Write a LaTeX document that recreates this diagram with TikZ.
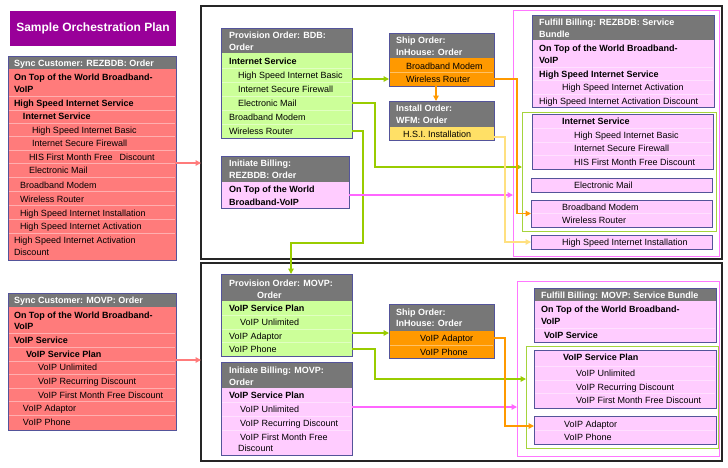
\documentclass[tikz,border=0pt]{standalone}
\usepackage{fontspec}
\setmainfont{Liberation Sans}
\usetikzlibrary{arrows.meta,calc}
\definecolor{hdr}{HTML}{777777}
\definecolor{bord}{HTML}{54549A}
\definecolor{syncf}{HTML}{FF7B7B}
\definecolor{provf}{HTML}{CCFF99}
\definecolor{billf}{HTML}{FFCCFF}
\definecolor{shipf}{HTML}{FF9900}
\definecolor{instf}{HTML}{FFE066}
\definecolor{titlef}{HTML}{990099}
\definecolor{grl}{HTML}{99CC00}
\definecolor{pkl}{HTML}{FF66FF}
\definecolor{orl}{HTML}{FF9900}
\definecolor{yll}{HTML}{FFE080}
\definecolor{rdl}{HTML}{FF7B7B}
\definecolor{grframe}{HTML}{A5D43C}
\definecolor{pkframe}{HTML}{FF77FF}
\tikzset{
 tb/.style={draw=bord, line width=0.9pt, inner sep=0pt, outer sep=0pt, anchor=north west},
 frm/.style={inner sep=0pt, outer sep=0pt, anchor=north west},
 txt/.style={inner sep=0pt, outer sep=0pt, anchor=west, text height=6.5pt, text depth=0pt, font=\fontsize{9}{11}\selectfont, text=black},
 htxt/.style={txt, text=white, font=\fontsize{9}{11}\selectfont\bfseries},
 btxt/.style={txt, font=\fontsize{9}{11}\selectfont\bfseries},
 sepl/.style={draw=white, draw opacity=0.4, line width=0.6pt},
 conn/.style={line width=1.3pt, -{Triangle[length=5.5pt,width=5.5pt]}},
}
\newcommand\tbox[7]{%
 \node[tb, fill=#7, minimum width={(#4-#2)*1pt}, minimum height={(#5-#3)*1pt}] (#1) at (#2,#3) {};
 \fill[hdr] (#2,#3) rectangle (#4,#6);
 \draw[bord, line width=0.9pt] (#2,#3) rectangle (#4,#5);
}
\newcommand\pbox[5]{%
 \node[tb, fill=billf, minimum width={(#4-#2)*1pt}, minimum height={(#5-#3)*1pt}] (#1) at (#2,#3) {};
}
\newcommand\seps[3]{\foreach \yy in {#3}{\draw[sepl] (#1,\yy) -- (#2,\yy);}}
\newcommand\rt[5][txt]{\node[#1] (#2) at (#3,#4) {#5};}
\begin{document}
\begin{tikzpicture}[x=1pt,y=-1pt]
\fill[white] (0,0) rectangle (728,467);
\useasboundingbox (0,0) rectangle (728,467);

% title
\node[frm, fill=titlef, minimum width=166pt, minimum height=35pt, text=white, font=\fontsize{12}{14}\selectfont\bfseries] (title) at (10,11) {Sample Orchestration Plan};

% big frames
\node[frm, draw=black!85, line width=1.2pt, minimum width=521pt, minimum height=253pt] (upper) at (201,6) {};
\node[frm, draw=black!85, line width=1.2pt, minimum width=521pt, minimum height=198pt] (lower) at (201,263) {};
\node[frm, draw=pkframe, line width=1pt, minimum width=206pt, minimum height=246pt] (pinkA) at (513,10) {};
\node[frm, draw=grframe, line width=1pt, minimum width=194pt, minimum height=119pt] (greenA) at (522,112) {};
\node[frm, draw=pkframe, line width=1pt, minimum width=202pt, minimum height=175pt] (pinkB) at (517,281) {};
\node[frm, draw=grframe, line width=1pt, minimum width=192pt, minimum height=102pt] (greenB) at (526,346) {};

% Sync Customer REZBDB
\tbox{syncA}{8}{56}{176}{260}{69}{syncf}
\seps{9}{175}{96,110,123,136,150,163,177,191,205,219,233}
\rt[htxt]{sAh}{14}{63}{Sync Customer: REZBDB: Order}
\rt[btxt]{sA1}{14}{77}{On Top of the World Broadband-}
\rt[btxt]{sA1b}{14}{89}{VoIP}
\rt[btxt]{sA2}{14}{103}{High Speed Internet Service}
\rt[btxt]{sA3}{23}{116}{Internet Service}
\rt{sA4}{32}{130}{High Speed Internet Basic}
\rt{sA5}{32}{143}{Internet Secure Firewall}
\rt{sA6}{29}{157}{HIS First Month Free\enspace\ Discount}
\rt{sA7}{29}{170}{Electronic Mail}
\rt{sA8}{20}{185}{Broadband Modem}
\rt{sA9}{20}{199}{Wireless Router}
\rt{sA10}{20}{213}{High Speed Internet Installation}
\rt{sA11}{20}{226}{High Speed Internet Activation}
\rt{sA12}{14}{240}{High Speed Internet Activation}
\rt{sA12b}{14}{252}{Discount}

% Sync Customer MOVP
\tbox{syncB}{8}{293}{176}{430}{307}{syncf}
\seps{9}{175}{333,347,361,374,388,401,415}
\rt[htxt]{sBh}{14}{300}{Sync Customer: MOVP: Order}
\rt[btxt]{sB1}{14}{315}{On Top of the World Broadband-}
\rt[btxt]{sB1b}{14}{326}{VoIP}
\rt[btxt]{sB2}{14}{340}{VoIP Service}
\rt[btxt]{sB3}{26}{354}{VoIP Service Plan}
\rt{sB4}{38}{367}{VoIP Unlimited}
\rt{sB5}{38}{381}{VoIP Recurring Discount}
\rt{sB6}{38}{395}{VoIP First Month Free Discount}
\rt{sB7}{23}{408}{VoIP Adaptor}
\rt{sB8}{23}{422}{VoIP Phone}

% Provision BDB
\tbox{provA}{221}{28}{352}{138}{53}{provf}
\seps{222}{351}{68,82,96,110,124}
\rt[htxt]{pAh1}{229}{35}{Provision Order: BDB:}
\rt[htxt]{pAh2}{229}{47}{Order}
\rt[btxt]{pA1}{229}{61}{Internet Service}
\rt{pA2}{238}{75}{High Speed Internet Basic}
\rt{pA3}{238}{89}{Internet Secure Firewall}
\rt{pA4}{238}{103}{Electronic Mail}
\rt{pA5}{229}{117}{Broadband Modem}
\rt{pA6}{229}{131}{Wireless Router}

% Initiate Billing REZBDB
\tbox{initA}{221}{156}{349}{208}{182}{billf}
\rt[htxt]{iAh1}{229}{163}{Initiate Billing:}
\rt[htxt]{iAh2}{229}{175}{REZBDB: Order}
\rt[btxt]{iA1}{229}{189}{On Top of the World}
\rt[btxt]{iA1b}{229}{202}{Broadband-VoIP}

% Ship Order (upper)
\tbox{shipA}{389}{33}{494}{86}{58}{shipf}
\seps{390}{493}{72}
\rt[htxt]{shAh1}{396}{40}{Ship Order:}
\rt[htxt]{shAh2}{396}{52}{InHouse: Order}
\rt{shA1}{406}{66}{Broadband Modem}
\rt{shA2}{406}{79}{Wireless Router}

% Install Order
\tbox{instA}{389}{101}{494}{140}{127}{instf}
\rt[htxt]{inAh1}{396}{108}{Install Order:}
\rt[htxt]{inAh2}{396}{120}{WFM: Order}
\rt{inA1}{403}{134}{H.S.I. Installation}

% Fulfill Billing REZBDB
\tbox{fulA}{532}{15}{714}{107}{40}{billf}
\seps{533}{713}{67,80,94}
\rt[htxt]{fAh1}{539}{22}{Fulfill Billing: REZBDB: Service}
\rt[htxt]{fAh2}{539}{34}{Bundle}
\rt[btxt]{fA1}{539}{48}{On Top of the World Broadband-}
\rt[btxt]{fA1b}{539}{60}{VoIP}
\rt[btxt]{fA2}{539}{74}{High Speed Internet Service}
\rt{fA3}{562}{87}{High Speed Internet Activation}
\rt{fA4}{539}{101}{High Speed Internet Activation Discount}

\pbox{isA}{532}{114}{713}{169}
\seps{533}{712}{128,142,155}
\rt[btxt]{isA1}{562}{121}{Internet Service}
\rt{isA2}{574}{135}{High Speed Internet Basic}
\rt{isA3}{574}{148}{Internet Secure Firewall}
\rt{isA4}{574}{162}{HIS First Month Free Discount}
\pbox{emA}{531}{178}{712}{192}
\rt{emA1}{574}{185}{Electronic Mail}
\pbox{bbA}{531}{200}{712}{227}
\seps{532}{711}{213}
\rt{bbA1}{562}{207}{Broadband Modem}
\rt{bbA2}{562}{220}{Wireless Router}
\pbox{hsiA}{531}{235}{712}{249}
\rt{hsiA1}{562}{242}{High Speed Internet Installation}

% Provision MOVP
\tbox{provB}{221}{274}{352}{356}{301}{provf}
\seps{222}{351}{315,329,342}
\rt[htxt]{pBh1}{229}{283}{Provision Order: MOVP:}
\rt[htxt]{pBh2}{257}{295}{Order}
\rt[btxt]{pB1}{229}{308}{VoIP Service Plan}
\rt{pB2}{240}{322}{VoIP Unlimited}
\rt{pB3}{229}{336}{VoIP Adaptor}
\rt{pB4}{229}{349}{VoIP Phone}

% Initiate Billing MOVP
\tbox{initB}{221}{362}{352}{455}{388}{billf}
\seps{222}{351}{402,416,430}
\rt[htxt]{iBh1}{229}{370}{Initiate Billing: MOVP:}
\rt[htxt]{iBh2}{229}{382}{Order}
\rt[btxt]{iB1}{229}{395}{VoIP Service Plan}
\rt{iB2}{240}{409}{VoIP Unlimited}
\rt{iB3}{240}{423}{VoIP Recurring Discount}
\rt{iB4}{240}{437}{VoIP First Month Free}
\rt{iB4b}{238}{448}{Discount}

% Ship Order (lower)
\tbox{shipB}{389}{304}{494}{358}{331}{shipf}
\seps{390}{493}{345}
\rt[htxt]{shBh1}{396}{312}{Ship Order:}
\rt[htxt]{shBh2}{396}{323}{InHouse: Order}
\rt{shB1}{420}{338}{VoIP Adaptor}
\rt{shB2}{420}{352}{VoIP Phone}

% Fulfill Billing MOVP
\tbox{fulB}{534}{288}{716}{342}{301}{billf}
\seps{535}{715}{328}
\rt[htxt]{fBh}{541}{295}{Fulfill Billing: MOVP: Service Bundle}
\rt[btxt]{fB1}{541}{309}{On Top of the World Broadband-}
\rt[btxt]{fB1b}{541}{321}{VoIP}
\rt[btxt]{fB2}{544}{335}{VoIP Service}
\pbox{vsB}{534}{350}{716}{408}
\seps{535}{715}{366,380,393}
\rt[btxt]{vsB1}{563}{357}{VoIP Service Plan}
\rt{vsB2}{576}{373}{VoIP Unlimited}
\rt{vsB3}{576}{387}{VoIP Recurring Discount}
\rt{vsB4}{576}{400}{VoIP First Month Free Discount}
\pbox{vaB}{534}{416}{716}{444}
\seps{535}{715}{430}
\rt{vaB1}{564}{424}{VoIP Adaptor}
\rt{vaB2}{564}{437}{VoIP Phone}

% connectors
\coordinate (c1) at ($(syncA.east)+(0,5)$);
\draw[conn,color=rdl] (c1) -- (c1 -| upper.west);
\coordinate (c2) at ($(syncB.east)+(0,-1.5)$);
\draw[conn,color=rdl] (c2) -- (c2 -| lower.west);

\draw[conn,color=grl] (provA.east |- shA2) -- (shipA.west |- shA2);
\draw[conn,color=grl] (provA.east |- pA4) -- ++(23,0) |- ($(greenA.west)+(0,-4.5)$);
\draw[conn,color=grl] (provA.east |- pA6) -- ++(11,0) -- ++(0,112) -| ($(provB.north)+(4.5,0)$);
\coordinate (c3) at ($(initA.east)+(0,13)$);
\draw[conn,color=pkl] (c3) -- (c3 -| pinkA.west);
\draw[conn,color=orl] (shipA.east |- shA2) -- ++(23,0) |- (bbA.west);
\coordinate (c4) at ($(shipA.south)+(-5.5,0)$);
\draw[conn,color=orl] (c4) -- (c4 |- instA.north);
\coordinate (c5) at ($(instA.south east)+(0,-3)$);
\draw[conn,color=yll] (c5) -- ++(11,0) |- (hsiA.west);

\coordinate (c6) at ($(shipB.west)+(0,2)$);
\draw[conn,color=grl] (c6 -| provB.east) -- (c6);
\draw[conn,color=grl] (provB.east |- pB4) -- ++(23,0) |- ($(greenB.west)+(0,-18)$);
\coordinate (c7) at ($(initB.east)+(0,-1.5)$);
\draw[conn,color=pkl] (c7) -- (c7 -| pinkB.west);
\draw[conn,color=orl] (shipB.east |- shB1) -- ++(11,0) |- ($(vaB.west)+(0,-4)$);
\end{tikzpicture}
\end{document}
